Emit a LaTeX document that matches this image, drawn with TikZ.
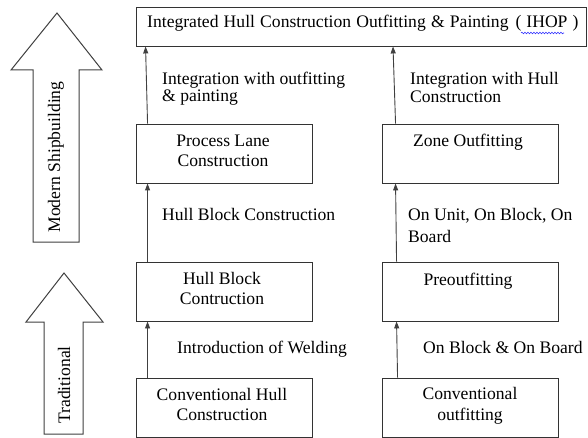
\documentclass[tikz,border=0pt]{standalone}
\usepackage{fontspec}
\setmainfont{Liberation Serif}
\usetikzlibrary{arrows.meta,decorations.pathmorphing}
\begin{document}
\begin{tikzpicture}[x=1pt,y=-1pt,
  box/.style={draw=black!80,line width=0.9pt,inner sep=0pt,minimum width=176pt,minimum height=59pt},
  txt/.style={inner sep=0pt,font=\fontsize{17.6pt}{20pt}\selectfont,anchor=base},
  ltxt/.style={txt,anchor=base west,align=left},
  ctxt/.style={txt,align=center},
  arr/.style={draw=black!75,line width=0.9pt,-{Triangle[width=5pt,length=7pt]}},
  bigarrow/.style={draw=black!75,line width=1pt,fill=white}]
\useasboundingbox (0,0) rectangle (588,438);
% top box
\node[box,minimum width=450pt,minimum height=39pt] (top) at (361,26.5) {};
\node[ltxt] (toptxt) at (147,28) {\spaceskip=5.2pt Integrated Hull Construction Outfitting \& Painting\hspace{7pt}(\hspace{5pt}IHOP\hspace{5pt})};
\draw[blue!80,line width=0.6pt,decorate,decoration={snake,amplitude=0.8pt,segment length=3pt}] (521,33) -- (564,33);
% left column boxes
\node[box] (pl) at (224,153.5) {};
\node[box] (hb) at (224,291.5) {};
\node[box] (ch) at (224,407.5) {};
% right column boxes
\node[box] (zo) at (470,153.5) {};
\node[box] (po) at (470,291.5) {};
\node[box] (co) at (470,407.5) {};
% box texts
\node[ctxt] (plt1) at (223,147) {Process Lane};
\node[ctxt] (plt2) at (223,167) {Construction};
\node[ctxt] (zot) at (468,147) {Zone Outfitting};
\node[ctxt] (hbt1) at (222,284) {Hull Block};
\node[ctxt] (hbt2) at (222,304) {Contruction};
\node[ctxt] (pot) at (468,285) {Preoutfitting};
\node[ctxt] (cht1) at (222,400) {Conventional Hull};
\node[ctxt] (cht2) at (222,420) {Construction};
\node[ctxt] (cot1) at (470,399) {Conventional};
\node[ctxt] (cot2) at (470,420) {outfitting};
% connectors
\draw[arr] ([xshift=12pt]ch.north west) -- ([xshift=12pt]hb.south west);
\draw[arr] ([xshift=12pt]hb.north west) -- ([xshift=12pt]pl.south west);
\draw[arr] ([xshift=12pt]pl.north west) -- ([xshift=10pt]top.south west);
\draw[arr] ([xshift=16pt]co.north west) -- ([xshift=15pt]po.south west);
\draw[arr] ([xshift=15pt]po.north west) -- ([xshift=14pt]zo.south west);
\draw[arr] ([xshift=14pt]zo.north west) -- (top.south -| 393,0);
% connector labels
\node[ltxt] (l1) at (162,85) {Integration with outfitting};
\node[ltxt] (l1b) at (162,102) {\& painting};
\node[ltxt] (r1) at (410,85) {Integration with Hull};
\node[ltxt] (r1b) at (410,103) {Construction};
\node[ltxt] (l2) at (162,221) {Hull Block Construction};
\node[ltxt] (r2) at (408,221) {On Unit, On Block, On};
\node[ltxt] (r2b) at (408,242) {Board};
\node[ltxt] (l3) at (177,353) {Introduction of Welding};
\node[ltxt] (r3) at (423,353) {On Block \& On Board};
% big arrows
\draw[bigarrow] (57,13) -- (102,70) -- (79,70) -- (79,242) -- (33,242) -- (33,70) -- (11,70) -- cycle;
\node[txt,anchor=center,rotate=90] (modern) at (56,157) {Modern Shipbuilding};
\draw[bigarrow] (64,273) -- (103,322) -- (83,322) -- (83,434) -- (44,434) -- (44,322) -- (26,322) -- cycle;
\node[txt,anchor=center,rotate=90] (trad) at (64,385) {Traditional};
\end{tikzpicture}
\end{document}
